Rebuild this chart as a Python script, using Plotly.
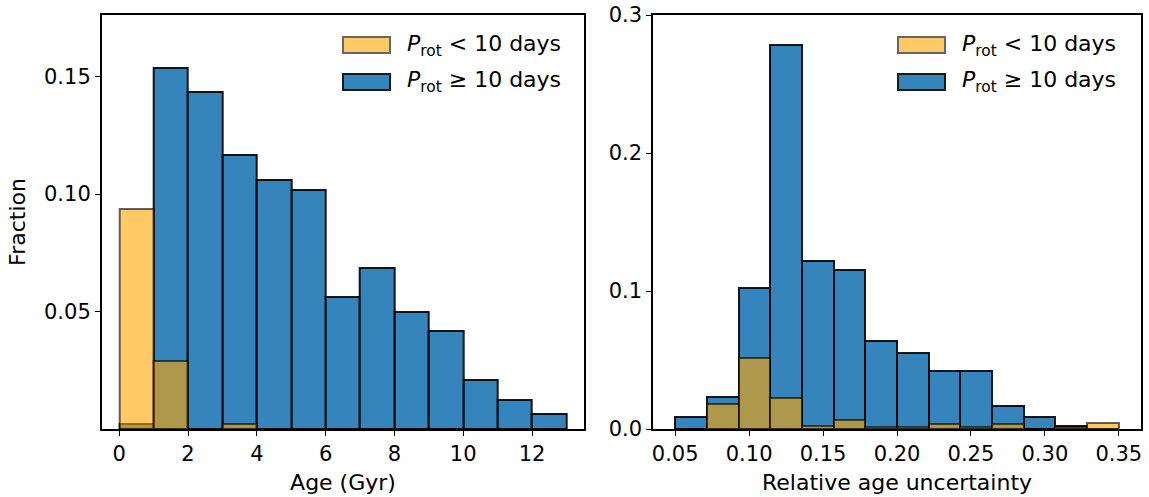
import plotly.graph_objects as go

# ---------------- data ----------------
age_edges = [0, 1, 2, 3, 4, 5, 6, 7, 8, 9, 10, 11, 12]
age_width = 1.0
age_fast = [0.0935, 0.029, 0, 0.002, 0, 0, 0, 0, 0, 0, 0, 0, 0]
age_slow = [0.002, 0.1535, 0.1435, 0.1165, 0.106, 0.1017, 0.0562, 0.0685, 0.0498, 0.0417, 0.0209, 0.0124, 0.0065]

unc_width = 0.3 / 14
unc_edges = [0.05 + i * unc_width for i in range(14)]
unc_fast = [0, 0.018, 0.0517, 0.0222, 0.0022, 0.0065, 0.0018, 0.0017, 0.0036, 0.0017, 0.0036, 0, 0.0018, 0.004]
unc_slow = [0.0085, 0.023, 0.102, 0.278, 0.1215, 0.1155, 0.0635, 0.055, 0.0418, 0.0418, 0.0167, 0.0085, 0.002, 0]

label_fast = "<i>P</i><sub>rot</sub> &lt; 10 days"
label_slow = "<i>P</i><sub>rot</sub> ≥ 10 days"

W, H = 1149, 497
BLUE = "rgba(31,119,180,0.9)"
BLUE_EDGE = "rgba(0,0,0,0.9)"
ORANGE = "rgba(255,165,0,0.6)"
ORANGE_EDGE = "rgba(0,0,0,0.6)"
FONT = "DejaVu Sans"

fig = go.Figure()

def add_hist(edges, width, slow, fast, xa, ya):
    fig.add_trace(go.Bar(x=edges, y=slow, width=width, offset=0, xaxis=xa, yaxis=ya,
                         marker=dict(color=BLUE, line=dict(color=BLUE_EDGE, width=2)),
                         showlegend=False, name="slow"))
    fig.add_trace(go.Bar(x=edges, y=fast, width=width, offset=0, xaxis=xa, yaxis=ya,
                         marker=dict(color=ORANGE, line=dict(color=ORANGE_EDGE, width=2)),
                         showlegend=False, name="fast"))

add_hist(age_edges, age_width, age_slow, age_fast, "x", "y")
add_hist(unc_edges, unc_width, unc_slow, unc_fast, "x2", "y2")

def px(x):
    return x / W

def py(y):
    return 1 - y / H

ydom = [py(429), py(15)]
axis_common = dict(showline=True, mirror=True, linecolor="black", linewidth=1.5,
                   ticks="outside", ticklen=5, tickwidth=1.3, tickcolor="black",
                   showgrid=False, zeroline=False, automargin=False,
                   tickfont=dict(family=FONT, size=21, color="black"))
title_font = dict(family=FONT, size=22, color="black")

fig.update_layout(
    template="none",
    width=W, height=H, margin=dict(l=0, r=0, t=0, b=0, autoexpand=False),
    paper_bgcolor="white", plot_bgcolor="white", barmode="overlay", bargap=0,
    font=dict(family=FONT, color="black"),
    xaxis=dict(domain=[px(101.7), px(584.3)], range=[-0.51, 13.52], anchor="y",
               tickvals=[0, 2, 4, 6, 8, 10, 12],
               title=dict(text="Age (Gyr)", font=title_font, standoff=10),
               **axis_common),
    yaxis=dict(domain=ydom, range=[0, 0.1762], anchor="x",
               tickvals=[0.05, 0.10, 0.15], ticktext=["0.05", "0.10", "0.15"],
               title=dict(text="Fraction", font=title_font, standoff=12),
               **axis_common),
    xaxis2=dict(domain=[px(653), px(1141)], range=[0.035, 0.365], anchor="y2",
                tickvals=[0.05, 0.10, 0.15, 0.20, 0.25, 0.30, 0.35],
                ticktext=["0.05", "0.10", "0.15", "0.20", "0.25", "0.30", "0.35"],
                title=dict(text="Relative age uncertainty", font=title_font, standoff=10),
                **axis_common),
    yaxis2=dict(domain=ydom, range=[0, 0.3], anchor="x2",
                tickvals=[0.0, 0.1, 0.2, 0.3], ticktext=["0.0", "0.1", "0.2", "0.3"],
                **axis_common),
)

# manual legends
def add_legend(x0):
    rows = [(37, 53, 45, "rgb(255,201,102)", "rgb(102,102,102)", label_fast),
            (74, 90, 82, "rgb(53,133,188)", "rgb(25,25,25)", label_slow)]
    for y0, y1, yc, fc, lc, txt in rows:
        fig.add_shape(type="rect", xref="paper", yref="paper",
                      x0=px(x0), x1=px(x0 + 47), y0=py(y1), y1=py(y0),
                      fillcolor=fc, line=dict(color=lc, width=2))
        fig.add_annotation(xref="paper", yref="paper", x=px(x0 + 62), y=py(yc),
                           text=txt, showarrow=False, xanchor="left", yanchor="middle",
                           font=dict(family=FONT, size=22, color="black"))

add_legend(343)
add_legend(898)

fig.write_html("out.html", config={"displayModeBar": False},
               post_script="document.body.style.margin='0';document.body.style.padding='0';")
